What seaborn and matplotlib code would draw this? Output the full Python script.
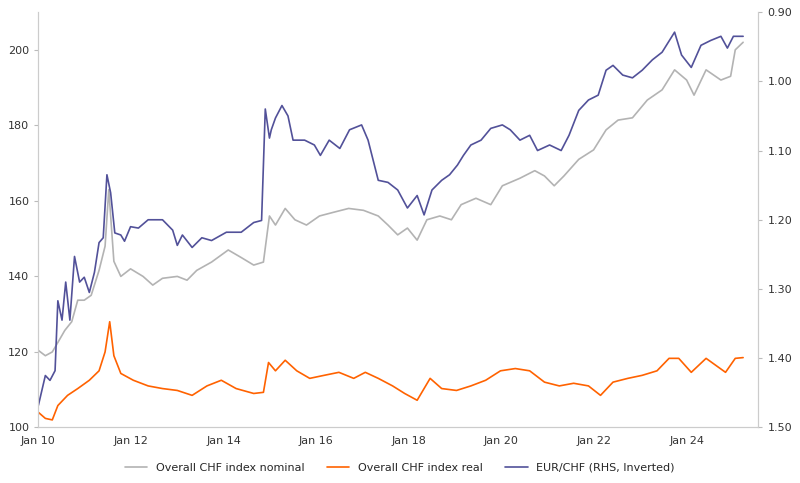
import numpy as np
import pandas as pd
import matplotlib.pyplot as plt
import seaborn as sns

# values (years since Jan 2010)
eur_t = [0, .15, .25, .36, .42, .51, .59, .68, .78, .89, .99, 1.10, 1.21, 1.31, 1.40, 1.48,
         1.56, 1.65, 1.78, 1.86, 1.99, 2.16, 2.37, 2.68, 2.90, 3.00, 3.11, 3.32, 3.53, 3.74,
         4.06, 4.38, 4.65, 4.82, 4.90, 4.99, 5.03, 5.12, 5.26, 5.39, 5.50, 5.75, 5.96, 6.09,
         6.28, 6.51, 6.72, 6.98, 7.12, 7.34, 7.55, 7.76, 7.97, 8.18, 8.33, 8.50, 8.71, 8.88,
         9.05, 9.18, 9.34, 9.56, 9.77, 10.02, 10.19, 10.40, 10.61, 10.78, 11.04, 11.29, 11.46,
         11.67, 11.88, 12.09, 12.26, 12.41, 12.62, 12.83, 13.04, 13.26, 13.47, 13.74, 13.89,
         14.10, 14.31, 14.52, 14.74, 14.88, 15.01, 15.22]
eur_chf = [1.468, 1.425, 1.432, 1.418, 1.317, 1.345, 1.29, 1.345, 1.253, 1.29, 1.283, 1.305,
           1.276, 1.233, 1.226, 1.135, 1.161, 1.219, 1.222, 1.231, 1.21, 1.212, 1.20, 1.20,
           1.215, 1.237, 1.222, 1.24, 1.226, 1.23, 1.218, 1.218, 1.204, 1.201, 1.04, 1.082,
           1.07, 1.053, 1.035, 1.05, 1.085, 1.085, 1.092, 1.107, 1.085, 1.097, 1.07, 1.063,
           1.085, 1.143, 1.146, 1.157, 1.183, 1.165, 1.193, 1.157, 1.143, 1.135, 1.121, 1.107,
           1.092, 1.085, 1.068, 1.063, 1.07, 1.085, 1.078, 1.10, 1.092, 1.10, 1.078, 1.042,
           1.027, 1.02, 0.984, 0.977, 0.991, 0.995, 0.984, 0.969, 0.958, 0.929, 0.962, 0.98,
           0.948, 0.941, 0.935, 0.952, 0.935, 0.935]

nom_t = [0, .15, .30, .42, .57, .72, .85, .99, 1.14, 1.31, 1.44, 1.52, 1.63, 1.78, 1.99, 2.26,
         2.47, 2.68, 3.00, 3.21, 3.42, 3.74, 4.10, 4.38, 4.65, 4.86, 4.99, 5.12, 5.33, 5.54,
         5.79, 6.07, 6.38, 6.70, 7.02, 7.34, 7.55, 7.76, 7.97, 8.18, 8.39, 8.67, 8.92, 9.13,
         9.45, 9.77, 10.02, 10.40, 10.72, 10.93, 11.14, 11.35, 11.67, 11.99, 12.26, 12.52,
         12.83, 13.15, 13.47, 13.74, 14.00, 14.16, 14.42, 14.74, 14.95, 15.05, 15.22]
nominal = [120.4, 119, 120, 122.5, 125.7, 128, 133.7, 133.7, 135, 141.6, 148, 163, 144, 140,
           142, 140, 137.7, 139.5, 140, 139, 141.6, 143.8, 147, 145, 143, 143.8, 156, 153.6,
           158, 155, 153.6, 156, 157, 158, 157.5, 156, 153.6, 151, 152.8, 149.6, 155, 156,
           155, 159, 160.7, 159, 164, 166, 168, 166.6, 164, 166.6, 171, 173.5, 178.8, 181.4,
           182, 186.7, 189.4, 194.7, 192, 188, 194.7, 192, 193, 200, 202]

real_t = [0, .15, .30, .42, .63, .85, 1.10, 1.31, 1.44, 1.54, 1.63, 1.78, 2.05, 2.37, 2.68,
          3.00, 3.32, 3.64, 3.95, 4.27, 4.65, 4.86, 4.97, 5.12, 5.33, 5.58, 5.86, 6.17, 6.49,
          6.81, 7.06, 7.34, 7.65, 7.91, 8.18, 8.46, 8.71, 9.03, 9.34, 9.66, 9.98, 10.30,
          10.61, 10.93, 11.25, 11.56, 11.88, 12.14, 12.41, 12.73, 13.04, 13.36, 13.62, 13.83,
          14.10, 14.42, 14.84, 15.05, 15.22]
real = [104, 102.4, 102, 105.8, 108.5, 110.3, 112.5, 115, 120, 128, 119, 114.3, 112.5, 111,
        110.3, 109.8, 108.5, 111, 112.5, 110.3, 109, 109.3, 117.2, 115, 117.8, 115, 113,
        113.8, 114.6, 113, 114.6, 113, 111, 109, 107.2, 113, 110.3, 109.8, 111, 112.5, 115,
        115.6, 115, 112, 111, 111.7, 111, 108.5, 112, 113, 113.8, 115, 118.3, 118.3, 114.6,
        118.3, 114.6, 118.3, 118.5]

df_nom = pd.DataFrame({"t": np.array(nom_t) + 2010, "v": nominal})
df_real = pd.DataFrame({"t": np.array(real_t) + 2010, "v": real})
df_eur = pd.DataFrame({"t": np.array(eur_t) + 2010, "v": eur_chf})

plt.rcParams["font.family"] = "Open Sans"
sns.set_style("white")
fig, ax = plt.subplots(figsize=(8, 4.83), dpi=100)
ax2 = ax.twinx()

sns.lineplot(data=df_nom, x="t", y="v", ax=ax, color="#b3b3b3", lw=1.2,
             label="Overall CHF index nominal", legend=False)
sns.lineplot(data=df_real, x="t", y="v", ax=ax, color="#ff6200", lw=1.2,
             label="Overall CHF index real", legend=False)
sns.lineplot(data=df_eur, x="t", y="v", ax=ax2, color="#525199", lw=1.2,
             label="EUR/CHF (RHS, Inverted)", legend=False)

ax.set_xlim(2010, 2025.55)
ax.set_ylim(100, 210)
ax.set_yticks(range(100, 201, 20))
ax2.set_ylim(1.50, 0.90)
ax2.set_yticks([1.5, 1.4, 1.3, 1.2, 1.1, 1.0, 0.9])
ax2.set_yticklabels([f"{v:.2f}" for v in [1.5, 1.4, 1.3, 1.2, 1.1, 1.0, 0.9]])
ax.set_xticks(range(2010, 2025, 2))
ax.set_xticklabels([f"Jan {y % 100}" for y in range(2010, 2025, 2)])
ax.set_xlabel("")
ax.set_ylabel("")
ax2.set_ylabel("")

for a in (ax, ax2):
    a.tick_params(labelsize=8, colors="#333333", length=3, color="#bbbbbb")
    for s in a.spines.values():
        s.set_color("#cccccc")
ax.spines["top"].set_visible(False)
ax2.spines["top"].set_visible(False)

h1, l1 = ax.get_legend_handles_labels()
h2, l2 = ax2.get_legend_handles_labels()
fig.legend(h1 + h2, l1 + l2, loc="lower center", ncol=3, frameon=False, fontsize=8,
           bbox_to_anchor=(0.5, 0.0))

fig.subplots_adjust(left=0.048, right=0.948, top=0.975, bottom=0.115)
fig.savefig("out.png", dpi=100)
